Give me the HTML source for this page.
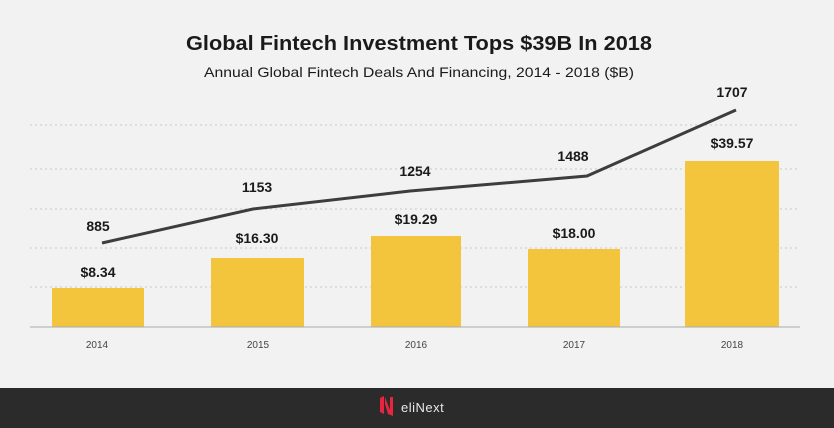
<!DOCTYPE html>
<html><head><style>
body{margin:0;width:834px;height:428px;background:#f2f2f2;overflow:hidden;font-family:"Liberation Sans",sans-serif}
</style></head><body>
<svg width="834" height="428" viewBox="0 0 834 428" xmlns="http://www.w3.org/2000/svg" style="position:absolute;left:0;top:0">
<rect width="834" height="428" fill="#f2f2f2"/>
<text x="186" y="50" textLength="466" lengthAdjust="spacingAndGlyphs" font-size="20" font-weight="bold" fill="#1a1a1a">Global Fintech Investment Tops $39B In 2018</text>
<text x="204" y="77" textLength="430" lengthAdjust="spacingAndGlyphs" font-size="14" fill="#1a1a1a">Annual Global Fintech Deals And Financing, 2014 - 2018 ($B)</text>
<g stroke="#c8c8c8" stroke-dasharray="2,3" stroke-width="1">
<line x1="30" y1="125" x2="800" y2="125"/><line x1="30" y1="169" x2="800" y2="169"/>
<line x1="30" y1="209" x2="800" y2="209"/><line x1="30" y1="248" x2="800" y2="248"/>
<line x1="30" y1="287" x2="800" y2="287"/></g>
<g fill="#f3c53c">
<rect x="52" y="288" width="92" height="39"/><rect x="211" y="258" width="93" height="69"/>
<rect x="371" y="236" width="90" height="91"/><rect x="528" y="249" width="92" height="78"/>
<rect x="685" y="161" width="94" height="166"/></g>
<line x1="30" y1="327" x2="800" y2="327" stroke="#aaa" stroke-width="1"/>
<polyline points="102,243 253,209 410,191 587,176 736,110" fill="none" stroke="#3d3d3d" stroke-width="3"/>
<g font-size="14" font-weight="bold" fill="#1a1a1a" text-anchor="middle">
<text x="98" y="231">885</text><text x="257" y="192">1153</text><text x="415" y="176">1254</text>
<text x="573" y="161">1488</text><text x="732" y="97">1707</text>
<text x="98" y="277">$8.34</text><text x="257" y="243">$16.30</text><text x="416" y="224">$19.29</text>
<text x="574" y="238">$18.00</text><text x="732" y="148">$39.57</text></g>
<g font-size="10" fill="#444" text-anchor="middle">
<text x="97" y="348">2014</text><text x="258" y="348">2015</text><text x="416" y="348">2016</text>
<text x="574" y="348">2017</text><text x="732" y="348">2018</text></g>
<rect x="0" y="388" width="834" height="40" fill="#2b2b2b"/>
<path d="M380 398 L384 396 L384 414 L380 412 Z M385 397 L390 410 L390 397 L393 397 L393 416 L388 414 L385 404 Z" fill="#e8253f"/>
<text x="401" y="412" font-size="13" fill="#e8e8e8" letter-spacing="0.5">eliNext</text>
</svg>
</body></html>
